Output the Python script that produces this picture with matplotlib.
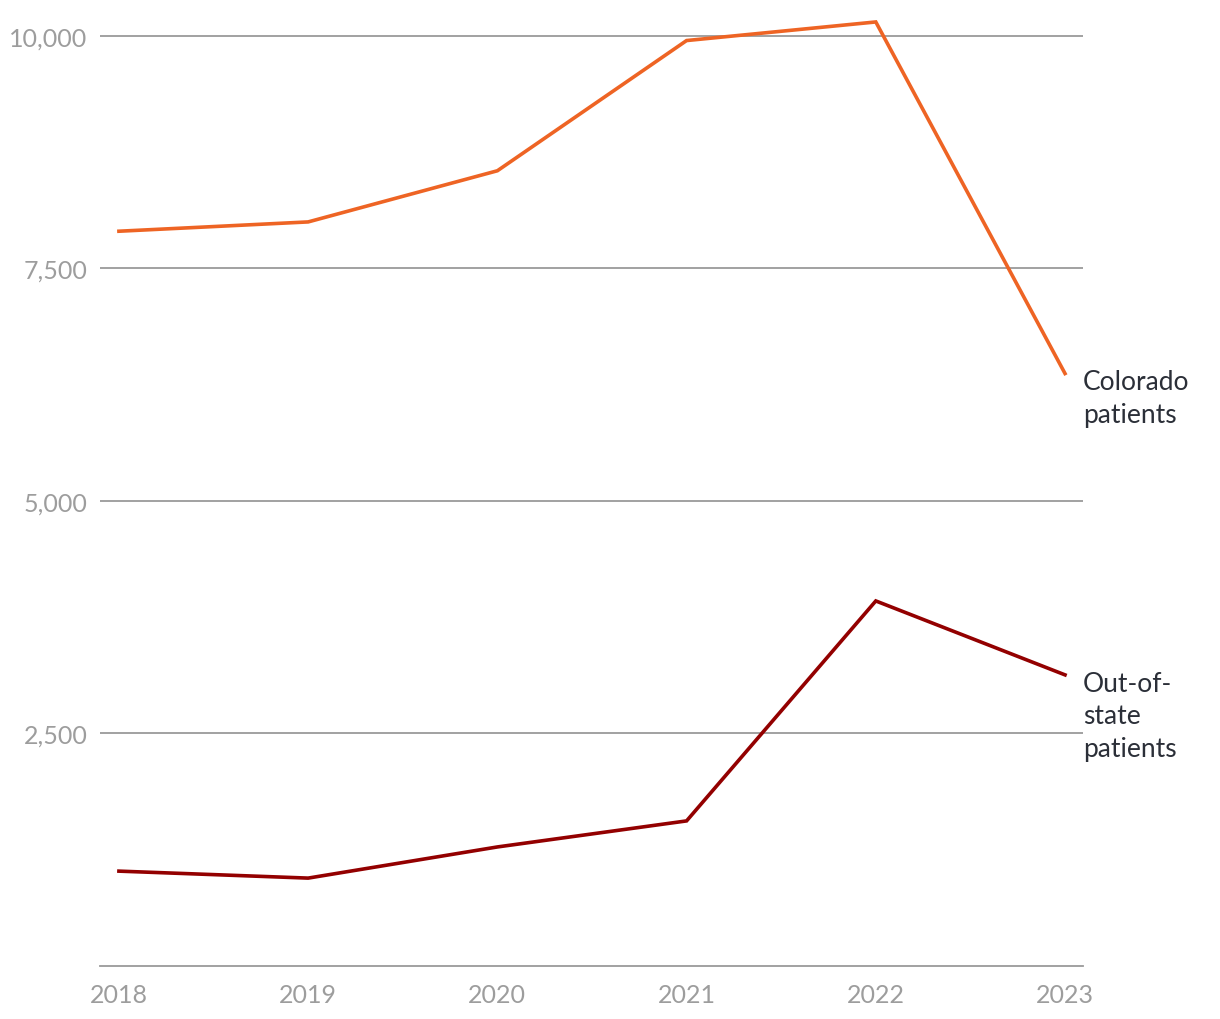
import matplotlib
matplotlib.use("Agg")
import matplotlib.pyplot as plt

# ----- Data -----
years = [2018, 2019, 2020, 2021, 2022, 2023]
colorado = [7900, 8000, 8550, 9950, 10150, 6370]
out_of_state = [1020, 945, 1280, 1560, 3925, 3130]
y_ticks = [2500, 5000, 7500, 10000]
y_labels = ["2,500", "5,000", "7,500", "10,000"]

plt.rcParams['font.family'] = ['Lato', 'DejaVu Sans']

fig = plt.figure(figsize=(12.2, 10.2), dpi=100)
ax = fig.add_axes([100 / 1220, 53 / 1020, 983 / 1220, 958 / 1020])

for y in y_ticks:
    ax.axhline(y, color='#9a9a9a', lw=1.3, zorder=1)

ax.plot(years, colorado, color='#ee6424', lw=2.6, zorder=3, solid_joinstyle='miter')
ax.plot(years, out_of_state, color='#930000', lw=2.6, zorder=3, solid_joinstyle='miter')

ax.annotate("Colorado\npatients", (years[-1], colorado[-1]), xytext=(13, 3),
            textcoords='offset points', ha='left', va='top', fontsize=19,
            color='#2b2f38', linespacing=1.37, annotation_clip=False)
ax.annotate("Out-of-\nstate\npatients", (years[-1], out_of_state[-1]), xytext=(13, 3),
            textcoords='offset points', ha='left', va='top', fontsize=19,
            color='#2b2f38', linespacing=1.37, annotation_clip=False)

ax.set_xlim(2017.9, 2023.095)
ax.set_ylim(0, 10300)
ax.set_xticks(years)
ax.set_yticks(y_ticks)
ax.set_yticklabels(y_labels)
ax.tick_params(axis='both', length=0, labelsize=18, labelcolor='#9d9d9d')
ax.tick_params(axis='y', pad=9)
ax.tick_params(axis='x', pad=12)

for side in ['top', 'right', 'left']:
    ax.spines[side].set_visible(False)
ax.spines['bottom'].set_color('#9a9a9a')
ax.spines['bottom'].set_linewidth(1.3)

fig.savefig("out.png", dpi=100)
